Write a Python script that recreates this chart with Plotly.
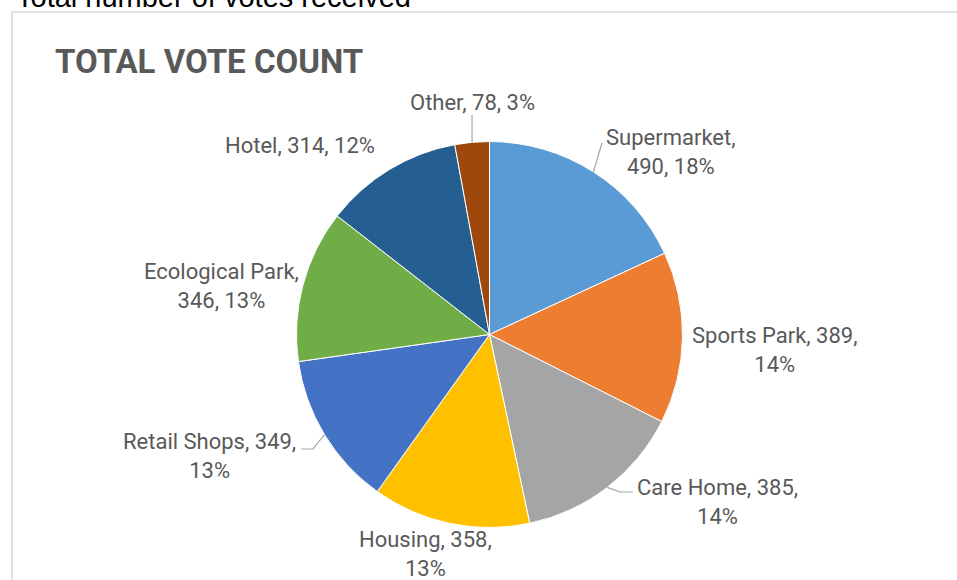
import math
import plotly.graph_objects as go

# ---- data ----
categories = ["Supermarket", "Sports Park", "Care Home", "Housing",
              "Retail Shops", "Ecological Park", "Hotel", "Other"]
votes = [490, 389, 385, 358, 349, 346, 314, 78]
colors = ["#5B9BD5", "#ED7D31", "#A5A5A5", "#FFC000",
          "#4472C4", "#70AD47", "#255E91", "#9E480E"]

# ---- layout constants (pixels) ----
W, H = 957, 580
CX, CY, R = 489.5, 334.5, 193.0
# label block centers and line-break style (Excel-like placement)
label_pos = {
    "Supermarket": (671, 152, "first"),
    "Sports Park": (775, 350, "last"),
    "Care Home": (717, 502, "last"),
    "Housing": (425, 554, "last"),
    "Retail Shops": (209, 456, "last"),
    "Ecological Park": (221, 286, "first"),
    "Hotel": (300, 146, "none"),
    "Other": (472, 103, "none"),
}
# leader line label-side points
leaders = {
    "Supermarket": [(602, 143)],
    "Other": [(472, 115)],
    "Care Home": [(620, 492), (633, 492)],
    "Retail Shops": [(313, 449), (301, 449)],
}

def px(x):
    return x / W

def py(y):
    return 1 - y / H

total = sum(votes)

fig = go.Figure(go.Pie(
    labels=categories, values=votes, sort=False, direction="clockwise",
    rotation=0, marker=dict(colors=colors, line=dict(color="white", width=1)),
    textinfo="none", hoverinfo="label+value+percent", showlegend=False,
    domain=dict(x=[px(CX - R), px(CX + R)], y=[py(CY + R), py(CY - R)]),
))

annotations = []
shapes = []
cum = 0
for cat, v in zip(categories, votes):
    mid = (cum + v / 2) / total * 2 * math.pi
    cum += v
    pct = round(v / total * 100)
    x, y, brk = label_pos[cat]
    if brk == "last":
        txt = f"{cat}, {v},<br>{pct}%"
    elif brk == "first":
        txt = f"{cat},<br>{v}, {pct}%"
    else:
        txt = f"{cat}, {v}, {pct}%"
    annotations.append(dict(
        x=px(x), y=py(y), xref="paper", yref="paper", text=txt,
        showarrow=False, xanchor="center", yanchor="middle", align="center",
        font=dict(family="Roboto", size=22, color="#595959")))
    if cat in leaders:
        ex = CX + R * math.sin(mid)
        ey = CY - R * math.cos(mid)
        pts = [(ex, ey)] + leaders[cat]
        path = "M " + " L ".join(f"{px(a)},{py(b)}" for a, b in pts)
        shapes.append(dict(type="path", xref="paper", yref="paper", path=path,
                           line=dict(color="#A6A6A6", width=1.2)))

# chart border
shapes.append(dict(type="rect", xref="paper", yref="paper",
                   x0=px(12), x1=px(W + 20), y0=py(H + 20), y1=py(12),
                   line=dict(color="#D9D9D9", width=1.6), fillcolor="rgba(0,0,0,0)"))

# header text, partly cut off at top
annotations.append(dict(
    x=px(14), y=py(-3), xref="paper", yref="paper",
    text="Total number of votes received", showarrow=False,
    xanchor="left", yanchor="middle",
    font=dict(family="Liberation Sans", size=29, color="#000000")))

fig.update_layout(
    width=W, height=H, margin=dict(l=0, r=0, t=0, b=0),
    paper_bgcolor="white", plot_bgcolor="white",
    title=dict(text="<b>TOTAL VOTE COUNT</b>", x=px(55), xanchor="left",
               y=py(61), yanchor="middle", xref="container", yref="container",
               font=dict(family="Roboto", size=33, color="#595959")),
    annotations=annotations, shapes=shapes,
)

fig.write_html("out.html", config={"displayModeBar": False},
               post_script="document.body.style.margin='0';document.body.style.overflow='hidden';")
